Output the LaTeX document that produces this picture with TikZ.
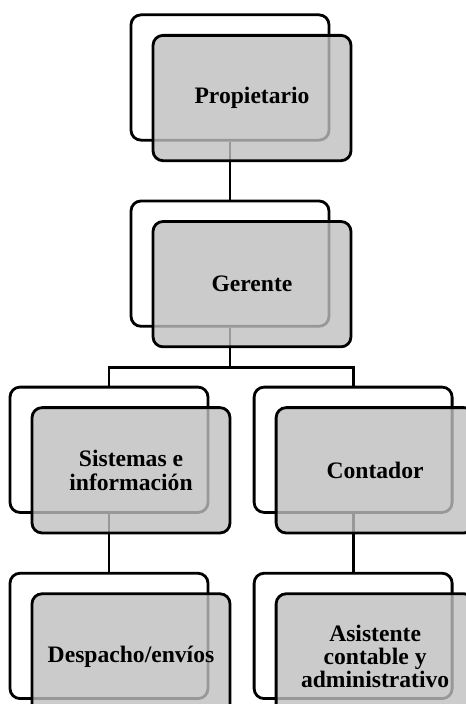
\documentclass[tikz,border=0pt]{standalone}
\usepackage{fontspec}
\setmainfont{Liberation Serif}
\usepackage{tikz}
\usetikzlibrary{positioning}

\tikzset{
  back/.style={draw, line width=2.1pt, rounded corners=7.5pt, fill=white,
    minimum width=148.5pt, minimum height=94pt},
  front/.style={back, fill=black!25, fill opacity=0.8, text opacity=1,
    align=center, font=\bfseries\fontsize{17.7}{17.6}\selectfont},
  link/.style={line width=2.1pt}
}

\begin{document}
\begin{tikzpicture}[x=0.75pt, y=-0.75pt, node distance=43.5pt]
    \useasboundingbox (0,0) rectangle (465,704);
    \node[back] (bprop) at (230,77.5) {};
    \node[back, below=of bprop] (bger) {};
    \node[back, below=of bger, xshift=-90.75pt] (bsis) {};
    \node[back, right=32.5pt of bsis] (bcon) {};
    \node[back, below=of bsis] (bdes) {};
    \node[back, below=of bcon] (basi) {};
    \coordinate[below=30pt of bger.south] (split);
    \draw[link] (bprop.south) -- (bger.north);
    \draw[link] (bger.south) -- (split) -| (bsis.north);
    \draw[link] (split) -| (bcon.north);
    \draw[link] (bsis.south) -- (bdes.north);
    \draw[link] (bcon.south) -- (basi.north);
    \node[front] (prop) at ([shift={(16.5pt,-15.4pt)}]bprop.center) {Propietario};
    \node[front] (ger) at ([shift={(16.5pt,-15.4pt)}]bger.center) {Gerente};
    \node[front] (sis) at ([shift={(16.5pt,-15.4pt)}]bsis.center) {Sistemas e\\información};
    \node[front] (con) at ([shift={(16.5pt,-15.4pt)}]bcon.center) {Contador};
    \node[front] (des) at ([shift={(16.5pt,-15.4pt)}]bdes.center) {Despacho/envíos};
    \node[front] (asi) at ([shift={(16.5pt,-15.4pt)}]basi.center) {Asistente\\contable y\\administrativo};
  \end{tikzpicture}
\end{document}
